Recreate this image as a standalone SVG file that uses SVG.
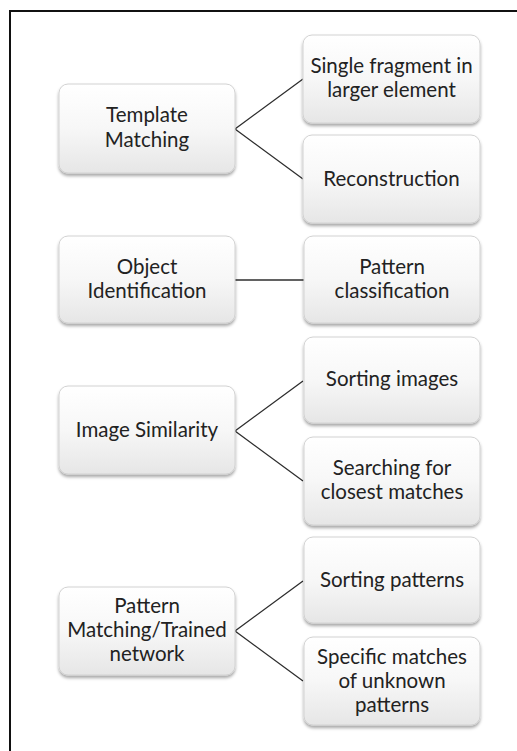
<svg xmlns="http://www.w3.org/2000/svg" width="517" height="751" viewBox="0 0 517 751">
  <defs>
    <linearGradient id="boxFill" x1="0" y1="0" x2="0" y2="1">
      <stop offset="0" stop-color="#ffffff"/>
      <stop offset="0.5" stop-color="#f7f7f7"/>
      <stop offset="1" stop-color="#e6e6e6"/>
    </linearGradient>
    <filter id="shadow" x="-10%" y="-10%" width="120%" height="130%">
      <feDropShadow dx="0" dy="2.5" stdDeviation="1.6" flood-color="#000" flood-opacity="0.35"/>
    </filter>
  </defs>
  <style>
    .box { fill: url(#boxFill); stroke: #d2d2d2; stroke-width: 1; filter: url(#shadow); }
    .lbl { font-family: Lato, "Open Sans", "DejaVu Sans", sans-serif; font-size: 20.5px; fill: #222222; text-anchor: middle; }
    .edge { stroke: #2e2e2e; stroke-width: 1.3; fill: none; }
    .frame { stroke: #111; stroke-width: 2; fill: none; }
  </style>

  <rect width="517" height="751" fill="#ffffff"/>
  <!-- outer frame (top and left edges) -->
  <path class="frame" d="M10 751 V11 H517"/>

  <g id="connectors">
    <polyline class="edge" points="303,79 235,129 303,179"/>
    <line class="edge" x1="235" y1="280" x2="304" y2="280"/>
    <polyline class="edge" points="303,381 235,431 303,481"/>
    <polyline class="edge" points="303,581 235,631 303,681"/>
  </g>

  <g id="template-matching">
    <rect class="box" x="59" y="84" width="176" height="89" rx="9"/>
    <text class="lbl" x="147" y="122">Template</text>
    <text class="lbl" x="147" y="147">Matching</text>
  </g>
  <g id="single-fragment">
    <rect class="box" x="303" y="35" width="177" height="88" rx="9"/>
    <text class="lbl" x="391.5" y="73">Single fragment in</text>
    <text class="lbl" x="391.5" y="97">larger element</text>
  </g>
  <g id="reconstruction">
    <rect class="box" x="303" y="135" width="177" height="88" rx="9"/>
    <text class="lbl" x="391.5" y="186">Reconstruction</text>
  </g>

  <g id="object-identification">
    <rect class="box" x="59" y="236" width="176" height="87" rx="9"/>
    <text class="lbl" x="147" y="274">Object</text>
    <text class="lbl" x="147" y="298">Identification</text>
  </g>
  <g id="pattern-classification">
    <rect class="box" x="304" y="236" width="176" height="87" rx="9"/>
    <text class="lbl" x="392" y="274">Pattern</text>
    <text class="lbl" x="392" y="298">classification</text>
  </g>

  <g id="image-similarity">
    <rect class="box" x="59" y="386" width="176" height="88" rx="9"/>
    <text class="lbl" x="147" y="437">Image Similarity</text>
  </g>
  <g id="sorting-images">
    <rect class="box" x="304" y="337" width="176" height="86" rx="9"/>
    <text class="lbl" x="392" y="386">Sorting images</text>
  </g>
  <g id="searching-closest">
    <rect class="box" x="304" y="437" width="176" height="88" rx="9"/>
    <text class="lbl" x="392" y="475">Searching for</text>
    <text class="lbl" x="392" y="499">closest matches</text>
  </g>

  <g id="pattern-matching">
    <rect class="box" x="59" y="587" width="176" height="88" rx="9"/>
    <text class="lbl" x="147" y="613">Pattern</text>
    <text class="lbl" x="147" y="637">Matching/Trained</text>
    <text class="lbl" x="147" y="661">network</text>
  </g>
  <g id="sorting-patterns">
    <rect class="box" x="304" y="537" width="176" height="86" rx="9"/>
    <text class="lbl" x="392" y="587">Sorting patterns</text>
  </g>
  <g id="specific-matches">
    <rect class="box" x="304" y="637" width="176" height="88" rx="9"/>
    <text class="lbl" x="392" y="664">Specific matches</text>
    <text class="lbl" x="392" y="688">of unknown</text>
    <text class="lbl" x="392" y="712">patterns</text>
  </g>
</svg>
